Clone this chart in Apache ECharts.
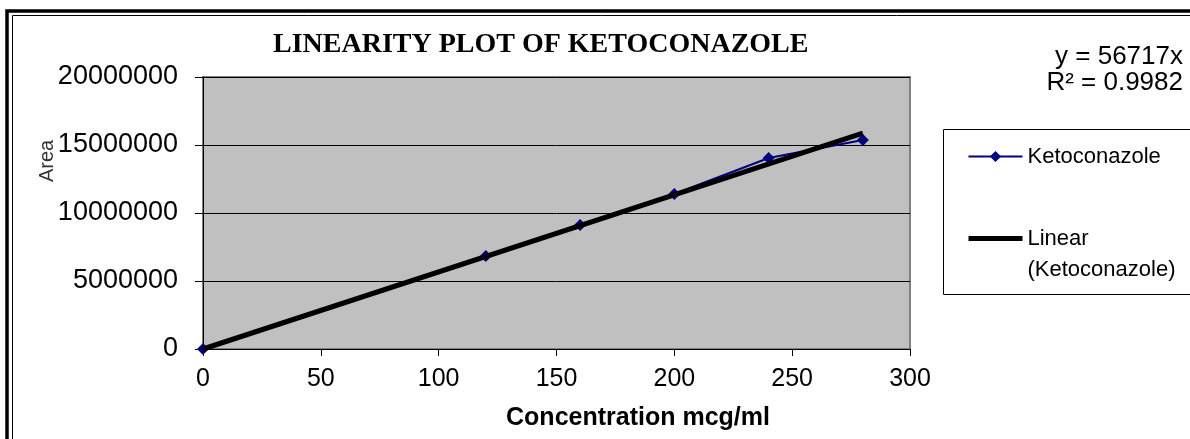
<!DOCTYPE html>
<html>
<head>
<meta charset="utf-8">
<script src="https://cdn.jsdelivr.net/npm/echarts@6/dist/echarts.min.js"></script>
<style>
html,body{margin:0;padding:0;background:#fff;}
#chart{width:1190px;height:439px;}
</style>
</head>
<body>
<div id="chart"></div>
<script>
const concentrations = [0, 120, 160, 200, 240, 280];
const areas = [0, 6840000, 9120000, 11400000, 14040000, 15370000];
const trendX = [0, 280];
const trendY = [0, 15880760];
const xTicks = [0, 50, 100, 150, 200, 250, 300];
const yTicks = [0, 5000000, 10000000, 15000000, 20000000];
const titleText = 'LINEARITY PLOT OF KETOCONAZOLE';
const seriesName = 'Ketoconazole';
const trendName = 'Linear (Ketoconazole)';
const equationLines = ['y = 56717x', 'R² = 0.9982'];

const chart = echarts.init(document.getElementById('chart'), null, {renderer: 'canvas'});
const sans = 'Liberation Sans, Arial, sans-serif';

chart.setOption({
  backgroundColor: '#fff',
  animation: false,
  title: {
    text: titleText,
    left: 268, top: 26,
    textStyle: {fontFamily: 'Liberation Serif, Times New Roman, serif', fontWeight: 'bold', fontSize: 28, color: '#000'}
  },
  grid: {left: 203, right: 280, top: 77, bottom: 90, show: true, backgroundColor: '#c0c0c0', borderColor: '#808080', borderWidth: 2},
  xAxis: {
    type: 'value', min: xTicks[0], max: xTicks[xTicks.length - 1], interval: 50,
    axisLine: {show: true, onZero: false, lineStyle: {color: '#000', width: 1}},
    axisTick: {show: true, inside: false, length: 7, lineStyle: {color: '#000'}},
    axisLabel: {margin: 18, fontSize: 25, fontFamily: sans, color: '#000', formatter: v => String(v)},
    splitLine: {show: false}
  },
  yAxis: {
    type: 'value', min: yTicks[0], max: yTicks[yTicks.length - 1], interval: 5000000,
    axisLine: {show: true, lineStyle: {color: '#000', width: 1}},
    axisTick: {show: true, inside: false, length: 8, lineStyle: {color: '#000'}},
    axisLabel: {margin: 25, fontSize: 27, fontFamily: sans, color: '#000', formatter: v => String(v)},
    splitLine: {show: true, lineStyle: {color: '#000', width: 1}}
  },
  legend: {
    orient: 'vertical', left: 966, top: 141, padding: 0, itemGap: 20,
    itemWidth: 54, itemHeight: 14,
    data: [
      {name: seriesName},
      {name: trendName, itemStyle: {color: 'rgba(0,0,0,0)', borderColor: 'rgba(0,0,0,0)', borderWidth: 0, opacity: 0}, lineStyle: {color: '#000', width: 5}}
    ],
    formatter: function (name) { return name === trendName ? '\nLinear\n(Ketoconazole)' : name; },
    textStyle: {fontFamily: sans, fontSize: 22, color: '#000', lineHeight: 31}
  },
  series: [
    {
      name: seriesName, type: 'line',
      data: concentrations.map((x, i) => [x, areas[i]]),
      symbol: 'diamond', symbolSize: 12,
      lineStyle: {color: '#000080', width: 2},
      itemStyle: {color: '#000080'},
      z: 2
    },
    {
      name: trendName, type: 'line',
      data: trendX.map((x, i) => [x, trendY[i]]),
      symbol: 'none', showSymbol: false,
      lineStyle: {color: '#000', width: 5},
      itemStyle: {color: '#000'},
      z: 3
    }
  ],
  graphic: [
    {type: 'rect', shape: {x: 943.5, y: 129.5, width: 300, height: 165}, style: {fill: '#fff', stroke: '#000', lineWidth: 1}, z: -1},
    {type: 'rect', shape: {x: 7, y: 11, width: 1300, height: 600}, style: {fill: 'none', stroke: '#000', lineWidth: 3.5}, z: 10},
    {type: 'rect', shape: {x: 12.5, y: 15.5, width: 1300, height: 600}, style: {fill: 'none', stroke: '#000', lineWidth: 1}, z: 10},
    {type: 'text', x: 1183, y: 57, style: {text: equationLines[0], fontFamily: sans, fontSize: 26, fill: '#000', textAlign: 'right', textVerticalAlign: 'middle'}},
    {type: 'text', x: 1183, y: 83, style: {text: equationLines[1], fontFamily: sans, fontSize: 26, fill: '#000', textAlign: 'right', textVerticalAlign: 'middle'}},
    {type: 'text', x: 47, y: 161, rotation: Math.PI / 2, style: {text: 'Area', fontFamily: sans, fontSize: 20, fill: '#333', textAlign: 'center', textVerticalAlign: 'middle'}},
    {type: 'text', x: 638, y: 418, style: {text: 'Concentration mcg/ml', fontFamily: sans, fontWeight: 'bold', fontSize: 25, fill: '#000', textAlign: 'center', textVerticalAlign: 'middle'}}
  ]
});
</script>
</body>
</html>
